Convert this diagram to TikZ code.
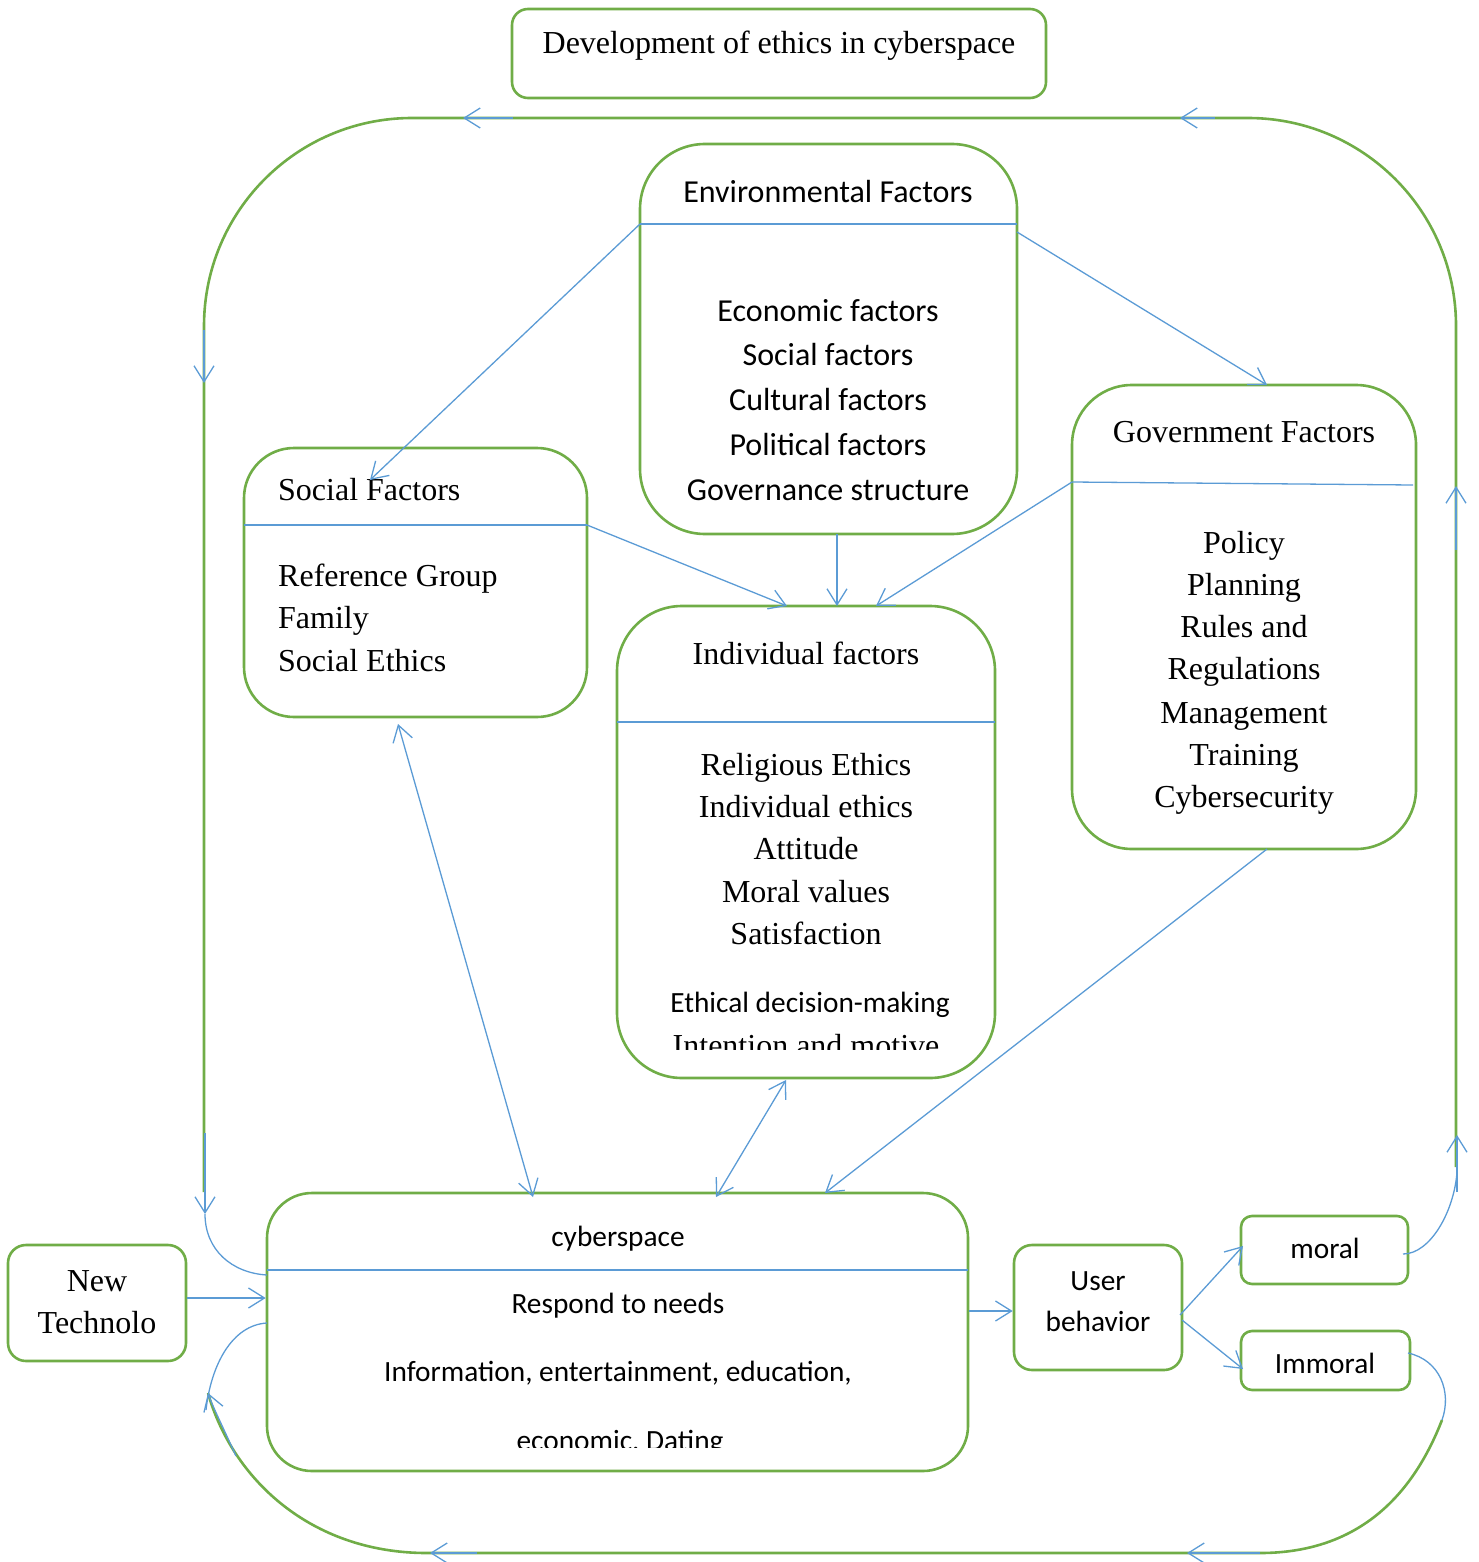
\documentclass[tikz,border=0pt]{standalone}
\usepackage{fontspec}
\setmainfont{Liberation Serif}
\newfontfamily\calibri{Carlito}
\usetikzlibrary{arrows.meta}
\definecolor{grn}{RGB}{112,173,71}
\definecolor{blu}{RGB}{91,155,213}
\begin{document}
\begin{tikzpicture}[x=1pt,y=-1pt,
  gbox/.style={draw=grn,line width=2.6pt,inner sep=0pt},
  gline/.style={draw=grn,line width=2.6pt},
  bline/.style={draw=blu,line width=1.3pt},
  barr/.style={bline,-{Straight Barb[length=16pt,width=20pt]}},
  bdarr/.style={bline,{Straight Barb[length=16pt,width=20pt]}-{Straight Barb[length=16pt,width=20pt]}},
  tr/.style={font=\fontsize{32}{38}\selectfont,inner sep=0pt,anchor=base},
  cb/.style={font=\calibri\fontsize{32}{38}\selectfont,inner sep=0pt,anchor=base},
  cbs/.style={font=\calibri\fontsize{29.33}{35}\selectfont,inner sep=0pt,anchor=base}]
\useasboundingbox (0,0) rectangle (1478,1562);

% ---------- big loop ----------
\coordinate (L1) at (204,1192);
\coordinate (TL) at (204,118);
\coordinate (TR) at (1456,118);
\coordinate (R1) at (1456,1167);
\draw[gline,rounded corners=208pt] (L1) -- (TL) -- (TR) -- (R1);
\coordinate (BR0) at (1442,1420);
\coordinate (BR1) at (1260,1553);
\coordinate (BL1) at (427,1553);
\coordinate (BL0) at (208,1393);
\draw[gline] (BR0) .. controls (1405,1515) and (1340,1553) .. (BR1) -- (BL1)
   .. controls (310,1553) and (232,1478) .. (BL0);

% blue arrows on the loop
\coordinate (t1a) at (513,118); \coordinate (t1b) at (463,118);
\coordinate (t2a) at (1215,118); \coordinate (t2b) at (1180,118);
\draw[barr] (t1a) -- (t1b);
\draw[barr] (t2a) -- (t2b);
\coordinate (l1a) at (204,330); \coordinate (l1b) at (204,383);
\draw[barr] (l1a) -- (l1b);
\coordinate (l2a) at (205,1133); \coordinate (l2b) at (205,1214);
\draw[barr] (l2a) -- (l2b);
\coordinate (r1a) at (1456,550); \coordinate (r1b) at (1456,486);
\draw[barr] (r1a) -- (r1b);
\coordinate (r2a) at (1457,1192); \coordinate (r2b) at (1457,1135);
\draw[barr] (r2a) -- (r2b);
\coordinate (b1a) at (1260,1553); \coordinate (b1b) at (1187,1553);
\draw[barr] (b1a) -- (b1b);
\coordinate (b2a) at (477,1553); \coordinate (b2b) at (430,1553);
\draw[barr] (b2a) -- (b2b);
\coordinate (bla) at (236,1456);
\draw[barr] (bla) .. controls (222,1425) and (212,1405) .. (BL0);

% ---------- boxes ----------
\node[gbox,rounded corners=16pt,minimum width=534pt,minimum height=89pt] (title) at (779,53.5) {};
\node[gbox,rounded corners=65pt,minimum width=377pt,minimum height=390pt] (env) at (828.5,339) {};
\node[gbox,rounded corners=50pt,minimum width=343pt,minimum height=269pt] (soc) at (415.5,582.5) {};
\node[gbox,rounded corners=60pt,minimum width=344pt,minimum height=464pt] (gov) at (1244,617) {};
\node[gbox,rounded corners=65pt,minimum width=378pt,minimum height=472pt] (ind) at (806,842) {};
\node[gbox,rounded corners=45pt,minimum width=701pt,minimum height=278pt] (cyb) at (617.5,1332) {};
\node[gbox,rounded corners=18pt,minimum width=178pt,minimum height=116pt] (newt) at (97,1303) {};
\node[gbox,rounded corners=18pt,minimum width=168pt,minimum height=125pt] (user) at (1098,1307.5) {};
\node[gbox,rounded corners=11pt,minimum width=167pt,minimum height=68pt] (moral) at (1324.5,1250) {};
\node[gbox,rounded corners=11pt,minimum width=169pt,minimum height=59pt] (immoral) at (1325.5,1360.5) {};

% dividers
\coordinate (envL) at (640,224); \coordinate (envR) at (1017,224);
\draw[bline] (envL) -- (envR);
\coordinate (socL) at (244,525); \coordinate (socR) at (587,525);
\draw[bline] (socL) -- (socR);
\coordinate (govL) at (1072,482); \coordinate (govR) at (1413,485);
\draw[bline] (govL) -- (govR);
\coordinate (indL) at (617,722); \coordinate (indR) at (995,722);
\draw[bline] (indL) -- (indR);
\coordinate (cybL) at (267,1270); \coordinate (cybR) at (968,1270);
\draw[bline] (cybL) -- (cybR);

% ---------- texts ----------
\node[tr] (ttitle) at (779,54) {Development of ethics in cyberspace};
\node[cb] (tenv) at (828,203) {Environmental Factors};
\foreach \t/\y [count=\i] in {Economic factors/321,Social factors/365,Cultural factors/410,Political factors/455,Governance structure/500}
  \node[cb] (envi\i) at (828,\y) {\t};
\node[tr,anchor=base west] (tsoc) at (278,500) {Social Factors};
\foreach \t/\y [count=\i] in {Reference Group/586,Family/628,Social Ethics/671}
  \node[tr,anchor=base west] (soci\i) at (278,\y) {\t};
\node[tr] (tgov) at (1244,442) {Government Factors};
\foreach \t/\y [count=\i] in {Policy/553,Planning/595,Rules and/637,Regulations/679,Management/723,Training/765,Cybersecurity/807}
  \node[tr] (govi\i) at (1244,\y) {\t};
\node[tr] (tind) at (806,664) {Individual factors};
\foreach \t/\y [count=\i] in {Religious Ethics/775,Individual ethics/817,Attitude/859,Moral values/902,Satisfaction/944}
  \node[tr] (indi\i) at (806,\y) {\t};
\node[cbs] (indi6) at (810,1012) {Ethical decision-making};
\begin{scope}
  \clip (620,1020) rectangle (992,1049);
  \node[tr] (indi7) at (806,1056) {Intention and motive};
\end{scope}
\node[cbs] (tcyb) at (618,1246) {cyberspace};
\node[cbs] (cyb1) at (618,1313) {Respond to needs};
\node[cbs] (cyb2) at (618,1381) {Information, entertainment, education,};
\begin{scope}
  \clip (300,1420) rectangle (940,1447);
  \node[cbs] (cyb3) at (620,1450) {economic, Dating};
\end{scope}
\node[tr] (newt1) at (97,1291) {New};
\node[tr] (newt2) at (97,1333) {Technolo};
\node[cbs] (user1) at (1098,1290) {User};
\node[cbs] (user2) at (1098,1331) {behavior};
\node[cbs] (tmoral) at (1325,1258) {moral};
\node[cbs] (timmoral) at (1325,1373) {Immoral};

% ---------- connectors ----------
\coordinate (socIn) at (370,480);
\draw[barr] (envL) -- (socIn);
\coordinate (envR2) at (1017,232); \coordinate (govT) at (1267,385);
\draw[barr] (envR2) -- (govT);
\coordinate (indT1) at (787,606);
\draw[barr] (socR) -- (indT1);
\coordinate (envB) at (837,534); \coordinate (indT2) at (837,606);
\draw[barr] (envB) -- (indT2);
\coordinate (indT3) at (876,606);
\draw[barr] (govL) -- (indT3);
\coordinate (socB) at (398,724); \coordinate (cybT1) at (533,1197);
\draw[bdarr] (socB) -- (cybT1);
\coordinate (indB) at (786,1080); \coordinate (cybT2) at (716,1197);
\draw[bdarr] (indB) -- (cybT2);
\coordinate (govB) at (1267,849); \coordinate (cybT3) at (825,1193);
\draw[barr] (govB) -- (cybT3);
\draw[barr] (newt.east |- 0,1298) -- (cyb.west |- 0,1298);
\draw[barr] (cyb.east |- 0,1311) -- (user.west |- 0,1311);
\coordinate (userR1) at (1180,1315); \coordinate (moralL) at (1243,1246);
\draw[barr] (userR1) -- (moralL);
\coordinate (userR2) at (1182,1320); \coordinate (immL) at (1243,1369);
\draw[barr] (userR2) -- (immL);

% curved blue connectors
\coordinate (cybL1) at (267,1275);
\draw[bline] (l2b) .. controls (205,1250) and (232,1273) .. (cybL1);
\coordinate (cybL2) at (267,1323); \coordinate (blEnd) at (206,1410);
\draw[bline] (cybL2) .. controls (232,1325) and (211,1365) .. (blEnd);
\coordinate (moralR) at (1403,1254); \coordinate (rEnd) at (1457,1172);
\draw[bline] (moralR) .. controls (1430,1254) and (1454,1212) .. (rEnd);
\coordinate (immR) at (1408,1353);
\draw[bline] (immR) .. controls (1440,1360) and (1452,1392) .. (BR0);
\end{tikzpicture}
\end{document}
